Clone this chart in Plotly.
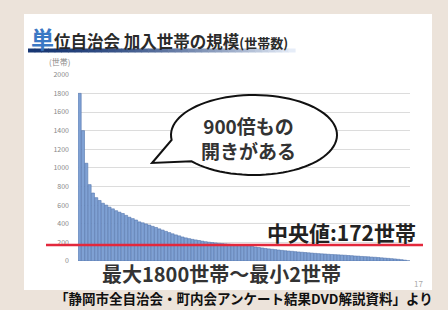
import math
import plotly.graph_objects as go

# ---- data ----
households = [1800, 1400, 1050, 820, 730, 680, 650, 620, 600, 578,
              560, 540, 524, 510, 490, 470, 455, 440, 420, 410,
              398, 386, 372, 360, 345, 332, 318, 305, 292, 280,
              270, 258, 248, 240, 232, 226, 220, 213, 207, 202,
              198, 194, 190, 187, 184, 181, 178, 176, 174, 172,
              170, 165, 158, 150, 145, 140, 135, 130, 126, 122,
              118, 114, 110, 107, 104, 100, 97, 94, 91, 88,
              85, 82, 79, 77, 75, 72, 70, 68, 66, 64,
              62, 59, 57, 54, 52, 49, 47, 45, 42, 40,
              37, 34, 31, 28, 25, 22, 18, 14, 9, 2]
ranks = list(range(1, len(households) + 1))
MEDIAN = 172
y_ticks = [0, 200, 400, 600, 800, 1000, 1200, 1400, 1600, 1800, 2000]

FONT = "Noto Sans CJK JP"
W, H = 448, 310
L, R, T, B = 78, 410, 74, 261  # plot area in pixels


def px(x):
    return (x - L) / (R - L)


def py(y):
    return (B - y) / (B - T)


fig = go.Figure()
fig.add_trace(go.Bar(
    x=ranks, y=households,
    marker=dict(color="#7fa1d4", line=dict(color="#5476ad", width=0.6)),
    hoverinfo="y",
))

shapes = []
# white slide panel
shapes.append(dict(type="rect", xref="paper", yref="paper",
                   x0=px(24), x1=px(432), y0=py(290), y1=py(14),
                   fillcolor="white", line=dict(width=0), layer="below"))
# gradient underline of title
n = 40
x_start, x_end = 28, 295
c0 = (24, 55, 115)
c1 = (230, 237, 248)
for i in range(n):
    f = (i / (n - 1)) ** 1.6
    col = tuple(int(c0[k] + (c1[k] - c0[k]) * f) for k in range(3))
    xa = x_start + (x_end - x_start) * i / n
    xb = x_start + (x_end - x_start) * (i + 1) / n
    shapes.append(dict(type="line", xref="paper", yref="paper",
                       x0=px(xa), x1=px(xb + 0.6), y0=py(50.5), y1=py(50.5),
                       line=dict(color="rgb(%d,%d,%d)" % col, width=4),
                       layer="above"))
# median line
shapes.append(dict(type="line", xref="paper", yref="y",
                   x0=px(46), x1=px(423), y0=MEDIAN, y1=MEDIAN,
                   line=dict(color="#e3283c", width=2.5), layer="above"))
# speech bubble
cx, cy, rx, ry = 254, 135, 83, 40
t1, t2 = 173.0, 138.8 + 360.0
pts = []
steps = 80
for i in range(steps + 1):
    t = math.radians(t1 + (t2 - t1) * i / steps)
    pts.append((cx + rx * math.cos(t), cy + ry * math.sin(t)))
pts.append((152, 163))
path = "M " + " L ".join("%.5f,%.5f" % (px(a), py(b)) for a, b in pts) + " Z"
shapes.append(dict(type="path", xref="paper", yref="paper", path=path,
                   fillcolor="white", line=dict(color="#111111", width=2),
                   layer="above"))

annotations = [
    dict(text="<b><span style='color:#3b78c4;font-size:23px'>単</span>"
              "位自治会 加入世帯の規模<span style='font-size:13px'>(世帯数)</span></b>",
         xref="paper", yref="paper", x=px(29), y=py(38), xanchor="left",
         yanchor="middle", showarrow=False,
         font=dict(family=FONT, size=16.5, color="#2a2a2a")),
    dict(text="(世帯)", xref="paper", yref="paper", x=px(59), y=py(62),
         xanchor="center", yanchor="middle", showarrow=False,
         font=dict(family=FONT, size=8, color="#888888")),
    dict(text="<b>900倍もの<br>開きがある</b>", xref="paper", yref="paper",
         x=px(248), y=py(138), xanchor="center", yanchor="middle",
         showarrow=False, font=dict(family=FONT, size=19, color="#333333")),
    dict(text="<b>中央値:%d世帯</b>" % MEDIAN, xref="paper", yref="paper",
         x=px(418), y=py(232), xanchor="right", yanchor="middle",
         showarrow=False, font=dict(family=FONT, size=21, color="#222222")),
    dict(text="<b>最大%d世帯〜最小%d世帯</b>" % (max(households), min(households)),
         xref="paper", yref="paper", x=px(221), y=py(273), xanchor="center",
         yanchor="middle", showarrow=False,
         font=dict(family=FONT, size=20, color="#333333")),
    dict(text="17", xref="paper", yref="paper", x=px(418), y=py(283),
         xanchor="center", yanchor="middle", showarrow=False,
         font=dict(family=FONT, size=8, color="#aaaaaa")),
    dict(text="<b>「静岡市全自治会・町内会アンケート結果DVD解説資料」より</b>",
         xref="paper", yref="paper", x=px(244), y=py(298), xanchor="center",
         yanchor="middle", showarrow=False,
         font=dict(family=FONT, size=13.5, color="#111111")),
]

fig.update_layout(
    width=W, height=H,
    margin=dict(l=L, r=W - R, t=T, b=H - B, pad=0),
    paper_bgcolor="#ece3da",
    plot_bgcolor="white",
    showlegend=False,
    bargap=0.08,
    shapes=shapes,
    annotations=annotations,
    font=dict(family=FONT),
    xaxis=dict(range=[0.5, len(households) + 0.5], showticklabels=False,
               showgrid=False, zeroline=False, ticks="", fixedrange=True),
    yaxis=dict(range=[0, 2008], tickvals=y_ticks,
               ticktext=[str(v) for v in y_ticks],
               tickfont=dict(family=FONT, size=7, color="#888888"),
               showgrid=True, gridcolor="#dcdcdc", gridwidth=1,
               zeroline=False, ticks="", ticklabelstandoff=8, fixedrange=True),
)

fig.write_html("out.html", config={"displayModeBar": False},
               post_script="document.body.style.margin='0';"
                           "document.body.style.overflow='hidden';")
